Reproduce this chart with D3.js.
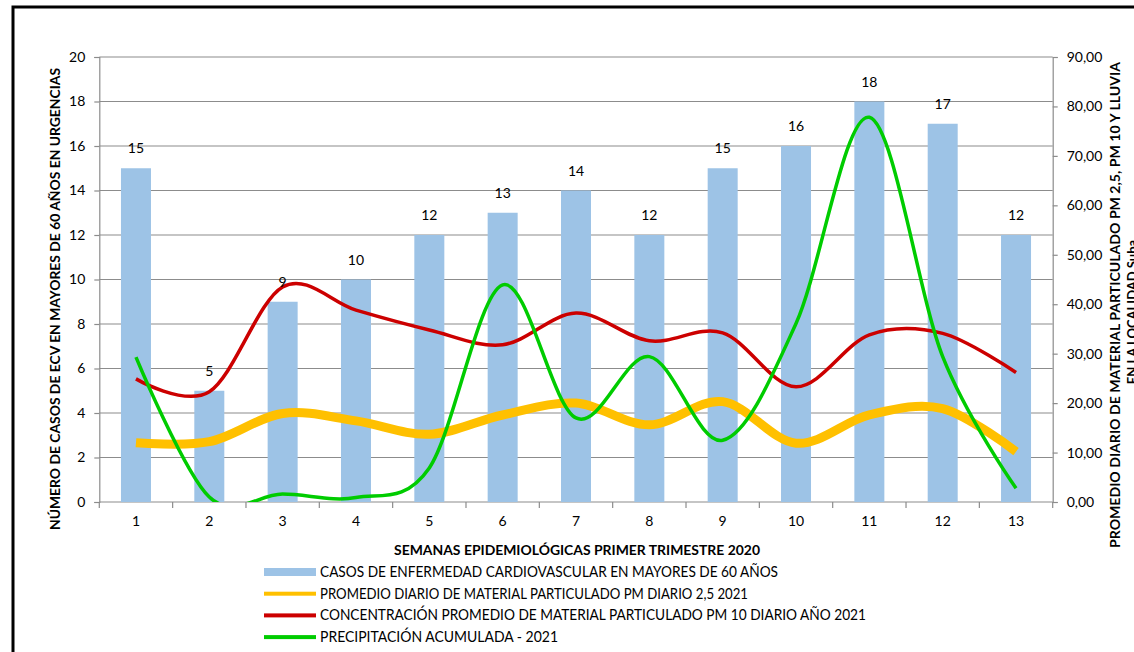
<!DOCTYPE html>
<html><head><meta charset="utf-8">
<script src="https://cdn.jsdelivr.net/npm/d3@7"></script>
<style>body{margin:0;background:#fff}svg{display:block}text{font-family:Lato,"Liberation Sans",sans-serif}</style>
</head><body><svg id="c" width="1134" height="652"></svg>
<script>
const weeks = ["1","2","3","4","5","6","7","8","9","10","11","12","13"];
const casosECV = [15,5,9,10,12,13,14,12,15,16,18,17,12];
const pm25 = [12.0,12.2,17.9,16.4,13.7,17.6,20.0,15.6,20.3,11.9,17.6,18.9,10.2];
const pm10 = [24.9,22.3,43.5,38.8,34.8,31.8,38.2,32.6,34.2,23.3,33.8,34.1,26.2];
const lluvia = [29.3,1.0,1.6,0.9,6.9,43.9,17.0,29.4,12.5,36.1,77.8,29.4,2.8];
const leftTicks = [0,2,4,6,8,10,12,14,16,18,20];
const rightTicks = [0,10,20,30,40,50,60,70,80,90];
const legendLabels = [
  "CASOS DE  ENFERMEDAD CARDIOVASCULAR EN MAYORES DE 60 AÑOS",
  "PROMEDIO DIARIO DE MATERIAL PARTICULADO PM DIARIO 2,5 2021",
  "CONCENTRACIÓN PROMEDIO DE MATERIAL PARTICULADO PM 10 DIARIO AÑO 2021",
  "PRECIPITACIÓN ACUMULADA  - 2021"
];
const colors = {bar:"#9DC3E6", pm25:"#FFC000", pm10:"#CC0000", rain:"#00CC00"};

const svg = d3.select("#c");
const L = 99.3, R = 1052.7, T = 57, B = 502;
const x = d3.scaleBand().domain(weeks).range([L,R]).paddingInner(0).paddingOuter(0);
const yL = d3.scaleLinear().domain([0,20]).range([B,T]);
const yR = d3.scaleLinear().domain([0,90]).range([B,T]);
const gridColor = "#8c8c8c";

// frame
svg.append("rect").attr("x",13).attr("y",7).attr("width",1300).attr("height",800)
  .attr("fill","none").attr("stroke","#000").attr("stroke-width",3);

// gridlines
svg.append("g").selectAll("line").data(leftTicks.slice(1)).join("line")
  .attr("x1",L).attr("x2",R).attr("y1",d=>yL(d)).attr("y2",d=>yL(d))
  .attr("stroke",gridColor).attr("stroke-width",1.2);

// left axis
const gL = svg.append("g").attr("transform",`translate(${L},0)`)
  .call(d3.axisLeft(yL).tickValues(leftTicks).tickSize(5).tickPadding(9));
// right axis
const gR = svg.append("g").attr("transform",`translate(${R},0)`)
  .call(d3.axisRight(yR).tickValues(rightTicks).tickSize(5).tickPadding(9)
    .tickFormat(d=>d3.format(".2f")(d).replace(".",",")));
// bottom axis
const gB = svg.append("g").attr("transform",`translate(0,${B})`)
  .call(d3.axisBottom(x).tickSize(0).tickPadding(14));
[gL,gR,gB].forEach(g=>{
  g.select(".domain").attr("stroke",gridColor).attr("stroke-width",1.2);
  g.selectAll(".tick line").attr("stroke",gridColor).attr("stroke-width",1.2);
  g.selectAll("text").attr("font-size",14).attr("fill","#000").style("font-family","Lato,'Liberation Sans',sans-serif");
});
gB.select(".domain").attr("d",`M${L},0H${R}`);
// category boundary ticks
svg.append("g").selectAll("line").data(weeks.concat(["end"])).join("line")
  .attr("x1",(d,i)=>L+i*x.step()).attr("x2",(d,i)=>L+i*x.step())
  .attr("y1",B).attr("y2",B+6).attr("stroke",gridColor).attr("stroke-width",1.2);

// bars
const bw = 30;
svg.append("g").selectAll("rect").data(casosECV).join("rect")
  .attr("x",(d,i)=>x(weeks[i])+x.bandwidth()/2-bw/2).attr("width",bw)
  .attr("y",d=>yL(d)).attr("height",d=>B-yL(d)).attr("fill",colors.bar);

// clip
svg.append("clipPath").attr("id","plotclip").append("rect")
  .attr("x",L).attr("y",T-10).attr("width",R-L).attr("height",B-T+10);

const line = d3.line().x((d,i)=>x(weeks[i])+x.bandwidth()/2).y(d=>yR(d)).curve(d3.curveCardinal.tension(0));
const lg = svg.append("g").attr("clip-path","url(#plotclip)");
lg.append("path").attr("d",line(pm25)).attr("fill","none").attr("stroke",colors.pm25).attr("stroke-width",9);
lg.append("path").attr("d",line(pm10)).attr("fill","none").attr("stroke",colors.pm10).attr("stroke-width",3.5);
lg.append("path").attr("d",line(lluvia)).attr("fill","none").attr("stroke",colors.rain).attr("stroke-width",3.5);

// data labels
svg.append("g").selectAll("text").data(casosECV).join("text")
  .attr("x",(d,i)=>x(weeks[i])+x.bandwidth()/2).attr("y",d=>yL(d)-15)
  .attr("text-anchor","middle").attr("font-size",14).attr("fill","#000").text(d=>d);

// axis titles
svg.append("text").attr("transform",`translate(60,299) rotate(-90)`).attr("text-anchor","middle")
  .attr("font-size",13).attr("font-weight","bold").attr("textLength",462).attr("lengthAdjust","spacingAndGlyphs")
  .text("NÚMERO DE CASOS DE ECV EN MAYORES DE 60 AÑOS  EN URGENCIAS");
svg.append("text").attr("transform",`translate(1120,305) rotate(-90)`).attr("text-anchor","middle")
  .attr("font-size",13).attr("font-weight","bold").attr("textLength",486).attr("lengthAdjust","spacingAndGlyphs")
  .text("PROMEDIO DIARIO DE MATERIAL PARTICULADO PM 2,5, PM 10 Y LLUVIA");
svg.append("text").attr("transform",`translate(1137,312) rotate(-90)`).attr("text-anchor","middle")
  .attr("font-size",13).attr("font-weight","bold")
  .text("EN LA LOCALIDAD Suba");
svg.append("text").attr("x",577).attr("y",555).attr("text-anchor","middle")
  .attr("font-size",13).attr("font-weight","bold").attr("textLength",366).attr("lengthAdjust","spacingAndGlyphs")
  .text("SEMANAS EPIDEMIOLÓGICAS PRIMER TRIMESTRE 2020");

// legend
const legColors = [colors.bar, colors.pm25, colors.pm10, colors.rain];
const legW = [8,4,4,4];
const legLen = [458, 428, 546, 238];
const leg = svg.append("g");
legendLabels.forEach((t,i)=>{
  const cy = 572 + i*21.7;
  leg.append("rect").attr("x",264).attr("y",cy-legW[i]/2).attr("width",52).attr("height",legW[i]).attr("fill",legColors[i]);
  leg.append("text").attr("x",320).attr("y",cy+5).attr("font-size",14.5)
    .attr("textLength",legLen[i]).attr("lengthAdjust","spacingAndGlyphs").text(t);
});
</script></body></html>
